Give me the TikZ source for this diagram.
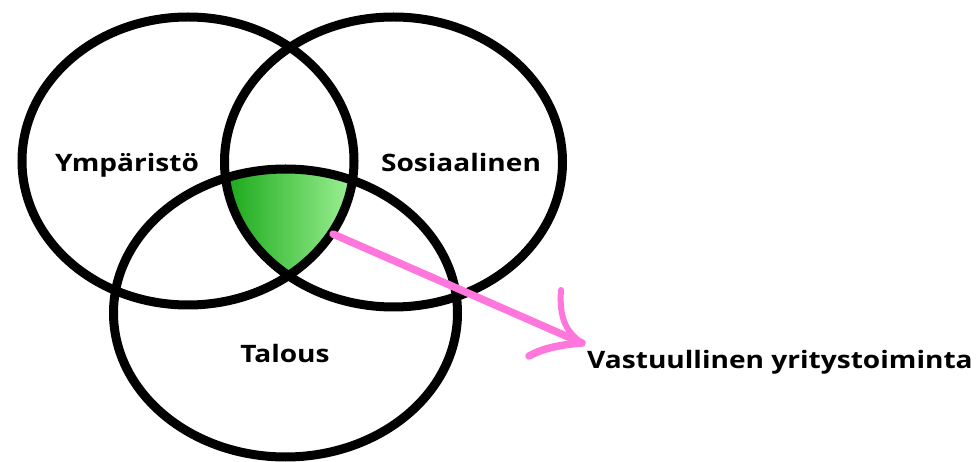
\documentclass[tikz,border=0pt]{standalone}
\usepackage{fontspec}
\setmainfont{Open Sans}
\definecolor{pinkarrow}{RGB}{255,119,221}
\definecolor{greendark}{RGB}{20,165,20}
\definecolor{greenlight}{RGB}{165,245,155}
\tikzset{
  ring/.style={draw=black, line width=9pt},
  lbl/.style={font=\fontsize{24}{28}\selectfont\bfseries, xscale=1.17, transform shape, inner sep=0pt, anchor=base},
  pinkline/.style={draw=pinkarrow, line width=7.5pt, line cap=round, line join=round}
}
\begin{document}
\begin{tikzpicture}[x=1pt,y=-1pt]
\useasboundingbox (0,0) rectangle (978,462);
% green intersection
\begin{scope}
  \clip (188,161) ellipse [x radius=166, y radius=144];
  \clip (393.5,162) ellipse [x radius=169, y radius=145];
  \clip (285.5,313) ellipse [x radius=172, y radius=144];
  \fill[left color=greendark, right color=greenlight] (220,160) rectangle (360,290);
\end{scope}
% ellipses
\draw[ring] (188,161) ellipse [x radius=166, y radius=144];
\draw[ring] (393.5,162) ellipse [x radius=169, y radius=145];
\draw[ring] (285.5,313) ellipse [x radius=172, y radius=144];
% labels
\node[lbl] (ymp) at (127,172) {Ympäristö};
\node[lbl] (sos) at (461,172) {Sosiaalinen};
\node[lbl] (tal) at (285,363) {Talous};
\node[lbl, anchor=base west] (vas) at (587,369) {Vastuullinen yritystoiminta};
% arrow
\coordinate (core) at (333,234);
\coordinate (tip) at (582,343);
\draw[pinkline] (core) -- (tip);
\draw[pinkline, line width=6pt] (561,290) .. controls (559,318) and (566,332) .. (tip);
\draw[pinkline] (tip) .. controls (555,345) and (540,350) .. (529,356);
\end{tikzpicture}
\end{document}
